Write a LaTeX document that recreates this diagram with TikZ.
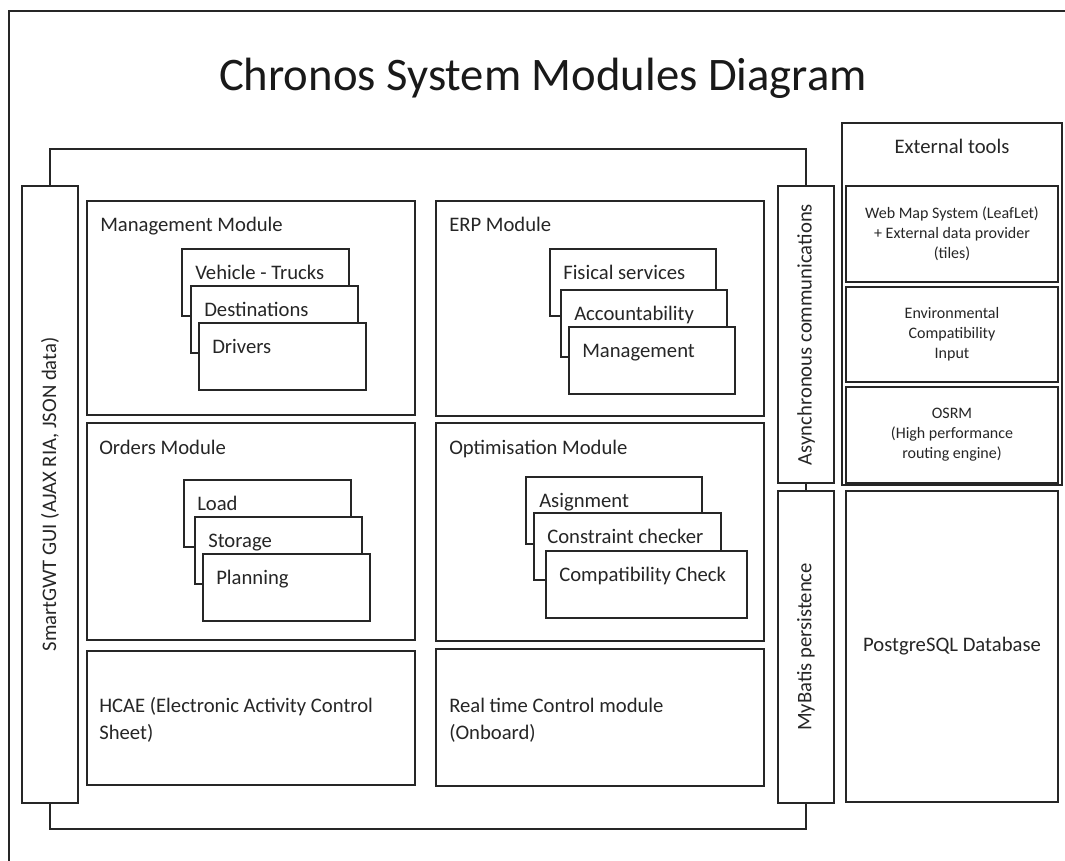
\documentclass[tikz,border=0pt]{standalone}
\usepackage{fontspec}
\setmainfont{Carlito}
\usetikzlibrary{fit}

\begin{document}
\begin{tikzpicture}[x=0.75pt,y=-0.75pt,
        box/.style={draw=black!85, line width=1.2pt, fill=white, inner sep=0pt},
        wire/.style={draw=black!85, line width=1.2pt},
        modtitle/.style={anchor=base west, inner sep=0pt, text=black!85, font=\fontsize{15.5}{20}\selectfont},
        vlabel/.style={rotate=90, inner sep=0pt, text=black!85, font=\fontsize{15.5}{20}\selectfont},
        tooltext/.style={align=center, inner sep=0pt, text=black!85, font=\fontsize{12}{15}\selectfont}]
        \useasboundingbox (0,0) rectangle (1065,861);
        \draw[wire] (9,861) -- (9,11) -- (1065,11);
        \node[anchor=base, inner sep=0pt, text=black!90, font=\fontsize{35}{40}\selectfont] (title) at (543,90) {Chronos System Modules Diagram};

        \node[box, fit={(22,186) (78,803)}] (gui) {};
        \node[vlabel] (guitext) at (gui.center) {SmartGWT GUI (AJAX RIA, JSON data)};
        \node[box, fit={(778,186) (834,483)}] (async) {};
        \node[vlabel] (asynctext) at (async.center) {Asynchronous communications};
        \node[box, fit={(778,491) (834,803)}] (mybatis) {};
        \node[vlabel] (mybatistext) at (mybatis.center) {MyBatis persistence};

        \coordinate (topbar) at (0,149);
        \coordinate (botbar) at (0,829);
        \draw[wire] (gui.north) -- (gui.north |- topbar) -| (async.north);
        \draw[wire] (gui.south) -- (gui.south |- botbar) -| (mybatis.south);
        \draw[wire] (async.south) -- (mybatis.north);

        \node[box, fit={(87,201) (415,415)}] (mgmt) {};
        \node[modtitle] (mgmttext) at (100,231) {Management Module};
        \node[box, fit={(436,201) (764,416)}] (erp) {};
        \node[modtitle] (erptext) at (449,231) {ERP Module};
        \node[box, fit={(87,423) (415,640)}] (orders) {};
        \node[modtitle] (orderstext) at (99,454) {Orders Module};
        \node[box, fit={(436,423) (764,641)}] (optim) {};
        \node[modtitle] (optimtext) at (449,454) {Optimisation Module};
        \node[box, fit={(87,651) (415,785)}] (hcae) {};
        \node[modtitle, align=left] (hcaetext) at (99,739) {HCAE (Electronic Activity Control\\Sheet)};
        \node[box, fit={(436,649) (764,786)}] (rtc) {};
        \node[modtitle, align=left] (rtctext) at (449,739) {Real time Control module\\(Onboard)};

        \foreach \name/\x/\y/\w/\txt in {
                trucks/182/249/167/Vehicle - Trucks, dest/191/286/167/Destinations, drivers/199/323/167/Drivers,
                fiscal/550/249/166/Fisical services, account/561/290/166/Accountability, erpmgmt/569/327/166/Management,
                load/184/480/167/Load, storage/195/517/167/Storage, planning/203/554/167/Planning,
                assign/526/477/176/Asignment, constr/534/513/187/Constraint checker, compat/546/551/201/Compatibility Check} {
            \node[box, fit={(\x,\y) (\x+\w,\y+67)}] (\name) {};
            \node[modtitle] (\name text) at (\x+13,\y+30) {\txt};
        }

        \node[box, fit={(842,123) (1062,485)}] (ext) {};
        \node[anchor=base, inner sep=0pt, text=black!85, font=\fontsize{15.5}{18}\selectfont] (exttext) at (952,153) {External tools};
        \node[box, fit={(846,186) (1058,282)}] (wms) {};
        \node[tooltext] (wmstext) at (wms.center) {Web Map System (LeafLet)\\+ External data provider\\(tiles)};
        \node[box, fit={(846,287) (1058,382)}] (env) {};
        \node[tooltext] (envtext) at (env.center) {Environmental\\Compatibility\\Input};
        \node[box, fit={(846,387) (1058,483)}] (osrm) {};
        \node[tooltext] (osrmtext) at (osrm.center) {OSRM\\(High performance\\routing engine)};
        \node[box, fit={(846,491) (1058,802)}] (db) {};
        \node[inner sep=0pt, text=black!85, font=\fontsize{15.5}{20}\selectfont] (dbtext) at (db.center) {PostgreSQL Database};
    \end{tikzpicture}
\end{document}
